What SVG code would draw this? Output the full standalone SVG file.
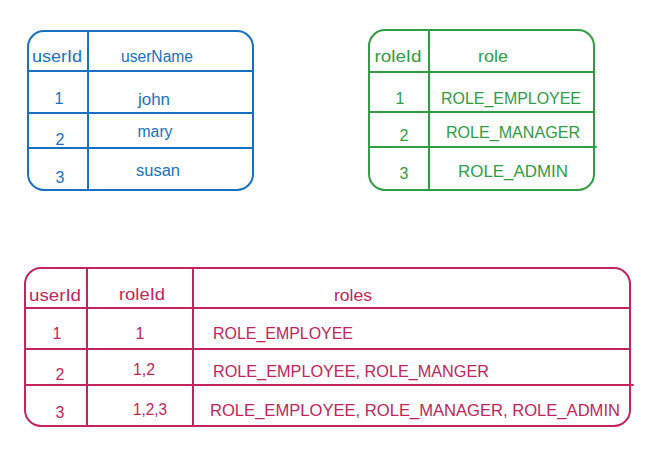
<svg xmlns="http://www.w3.org/2000/svg" width="668" height="463" viewBox="0 0 668 463">
<style>
text{font-family:"Liberation Sans","DejaVu Sans",sans-serif;font-size:16px;}
.b{stroke:#1971c2;fill:none;stroke-width:2;stroke-linecap:round}
.g{stroke:#2f9e44;fill:none;stroke-width:2;stroke-linecap:round}
.r{stroke:#c2255c;fill:none;stroke-width:2;stroke-linecap:round}
.bt{fill:#1971c2}
.gt{fill:#2f9e44}
.rt{fill:#c2255c}
.c{text-anchor:middle}
</style>
<rect width="668" height="463" fill="#ffffff"/>
<g id="users">
<rect class="b" x="28" y="31" width="225" height="159" rx="16"/>
<line class="b" x1="88" y1="31" x2="88" y2="190"/>
<line class="b" x1="28" y1="71" x2="253" y2="71"/>
<line class="b" x1="28" y1="113" x2="253" y2="113"/>
<line class="b" x1="28" y1="148" x2="253" y2="148"/>
<text class="bt c" x="57" y="62" textLength="50" lengthAdjust="spacingAndGlyphs">userId</text>
<text class="bt c" x="157" y="62" textLength="72" lengthAdjust="spacingAndGlyphs">userName</text>
<text class="bt c" x="59" y="104">1</text>
<text class="bt c" x="154" y="105" textLength="32" lengthAdjust="spacingAndGlyphs">john</text>
<text class="bt c" x="60" y="145">2</text>
<text class="bt c" x="155" y="137" textLength="35" lengthAdjust="spacingAndGlyphs">mary</text>
<text class="bt c" x="60" y="183">3</text>
<text class="bt c" x="158" y="176" textLength="44" lengthAdjust="spacingAndGlyphs">susan</text>
</g>
<g id="roles">
<rect class="g" x="369" y="30" width="225" height="160" rx="16"/>
<line class="g" x1="429" y1="30" x2="429" y2="190"/>
<line class="g" x1="369" y1="72" x2="594" y2="72"/>
<line class="g" x1="369" y1="112" x2="594" y2="112"/>
<line class="g" x1="369" y1="147" x2="596" y2="147"/>
<text class="gt c" x="398" y="62" textLength="47" lengthAdjust="spacingAndGlyphs">roleId</text>
<text class="gt c" x="493" y="62" textLength="30" lengthAdjust="spacingAndGlyphs">role</text>
<text class="gt c" x="400" y="104">1</text>
<text class="gt c" x="511" y="104" textLength="140" lengthAdjust="spacingAndGlyphs">ROLE_EMPLOYEE</text>
<text class="gt c" x="404" y="141">2</text>
<text class="gt c" x="513" y="138" textLength="134" lengthAdjust="spacingAndGlyphs">ROLE_MANAGER</text>
<text class="gt c" x="404" y="179">3</text>
<text class="gt c" x="513" y="177" textLength="110" lengthAdjust="spacingAndGlyphs">ROLE_ADMIN</text>
</g>
<g id="user_roles">
<rect class="r" x="25" y="268" width="605" height="158" rx="16"/>
<line class="r" x1="87" y1="268" x2="87" y2="426"/>
<line class="r" x1="193" y1="268" x2="193" y2="426"/>
<line class="r" x1="25" y1="308" x2="630" y2="308"/>
<line class="r" x1="25" y1="349" x2="630" y2="349"/>
<line class="r" x1="25" y1="385" x2="633" y2="385"/>
<text class="rt c" x="55" y="301" textLength="52" lengthAdjust="spacingAndGlyphs">userId</text>
<text class="rt c" x="142" y="300" textLength="46" lengthAdjust="spacingAndGlyphs">roleId</text>
<text class="rt c" x="353" y="301" textLength="38" lengthAdjust="spacingAndGlyphs">roles</text>
<text class="rt c" x="57" y="339">1</text>
<text class="rt c" x="140" y="339">1</text>
<text class="rt" x="213" y="339" textLength="140" lengthAdjust="spacingAndGlyphs">ROLE_EMPLOYEE</text>
<text class="rt c" x="60" y="380">2</text>
<text class="rt c" x="144" y="375" textLength="22" lengthAdjust="spacingAndGlyphs">1,2</text>
<text class="rt" x="213" y="377" textLength="276" lengthAdjust="spacingAndGlyphs">ROLE_EMPLOYEE, ROLE_MANGER</text>
<text class="rt c" x="150" y="415" textLength="34" lengthAdjust="spacingAndGlyphs">1,2,3</text>
<text class="rt c" x="60" y="418">3</text>
<text class="rt" x="210" y="416" textLength="410" lengthAdjust="spacingAndGlyphs">ROLE_EMPLOYEE, ROLE_MANAGER, ROLE_ADMIN</text>
</g>
<g id="connectors"></g>
</svg>
